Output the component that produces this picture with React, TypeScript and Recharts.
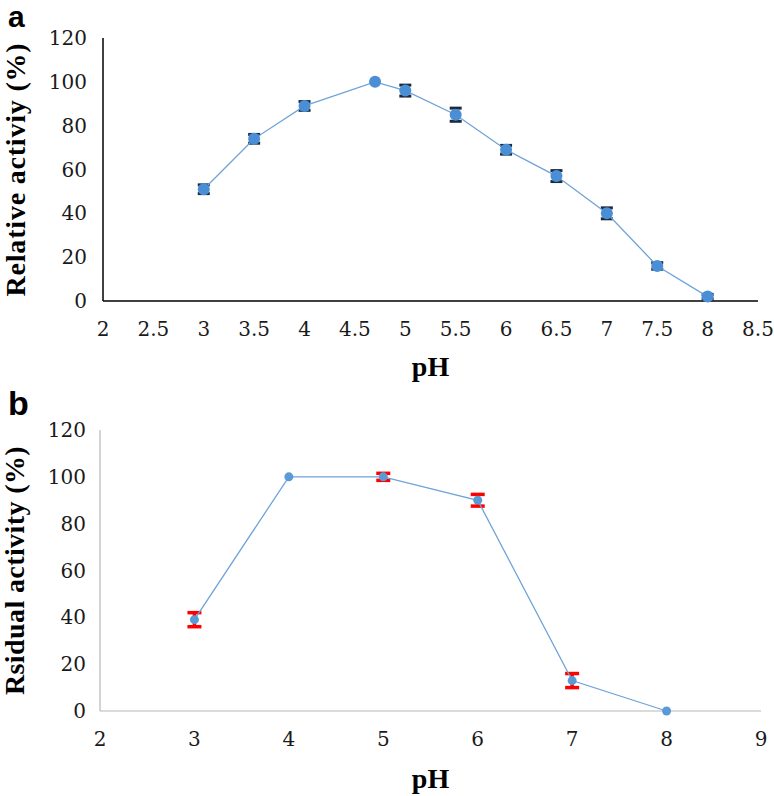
import React from 'react';
import { LineChart, Line, XAxis, YAxis, ErrorBar } from 'recharts';

// Panel a: pH optimum
const phA = [3, 3.5, 4, 4.7, 5, 5.5, 6, 6.5, 7, 7.5, 8];
const relActivity = [51, 74, 89, 100, 96, 85, 69, 57, 40, 16, 2];
const relError = [2, 2, 2, 0, 2.5, 3, 2, 2.5, 2.5, 1.5, 1];
const ticksXA = [2, 2.5, 3, 3.5, 4, 4.5, 5, 5.5, 6, 6.5, 7, 7.5, 8, 8.5];

// Panel b: pH stability
const phB = [3, 4, 5, 6, 7, 8];
const resActivity = [39, 100, 100, 90, 13, 0];
const resError = [3, 0, 1.5, 2.5, 3, 0];
const ticksXB = [2, 3, 4, 5, 6, 7, 8, 9];

const ticksY = [0, 20, 40, 60, 80, 100, 120];

const dataA = phA.map((x, i) => ({ x, y: relActivity[i], err: relError[i] }));
const dataB = phB.map((x, i) => ({ x, y: resActivity[i], err: resError[i] }));

const tickFont = { fontFamily: 'DejaVu Serif', fontSize: 20, fill: '#1a1a1a' };
const titleStyle = {
  fontFamily: 'Liberation Serif',
  fontSize: 28,
  fontWeight: 'bold',
  fill: '#000',
};

export default function App() {
  return (
    <div style={{ position: 'absolute', left: 0, top: 0, width: 774, height: 796, background: '#fff' }}>
      <div style={{ position: 'absolute', left: 0, top: 0 }}>
        <LineChart width={774} height={392} data={dataA} margin={{ top: 38, right: 16, left: 0, bottom: 0 }}>
          <XAxis
            dataKey="x"
            type="number"
            domain={[2, 8.5]}
            ticks={ticksXA}
            interval={0}
            tickLine={false}
            tickMargin={15}
            axisLine={{ stroke: '#000', strokeWidth: 1.5 }}
            tick={tickFont}
            height={91}
            label={{ value: 'pH', position: 'insideBottom', offset: 16, style: titleStyle }}
          />
          <YAxis
            type="number"
            domain={[0, 120]}
            ticks={ticksY}
            interval={0}
            tickLine={false}
            tickMargin={10}
            axisLine={{ stroke: '#000', strokeWidth: 1.5 }}
            tick={tickFont}
            width={103}
            label={{
              value: 'Relative activiy (%)',
              angle: -90,
              position: 'center',
              dx: -36,
              style: { ...titleStyle, letterSpacing: 0.8 },
            }}
          />
          <Line
            dataKey="y"
            type="linear"
            stroke="#6fa3d8"
            strokeWidth={1.3}
            dot={{ r: 6, fill: '#4a8fd6', stroke: 'none' }}
            isAnimationActive={false}
          >
            <ErrorBar dataKey="err" direction="y" width={6} strokeWidth={3} stroke="#1e2a3b" />
          </Line>
        </LineChart>
      </div>
      <div style={{ position: 'absolute', left: 0, top: 380 }}>
        <LineChart width={774} height={416} data={dataB} margin={{ top: 50, right: 13, left: 0, bottom: 0 }}>
          <XAxis
            dataKey="x"
            type="number"
            domain={[2, 9]}
            ticks={ticksXB}
            interval={0}
            tickLine={false}
            tickMargin={15}
            axisLine={{ stroke: '#b8b8b8', strokeWidth: 1.2 }}
            tick={tickFont}
            height={85}
            label={{ value: 'pH', position: 'insideBottom', offset: 8, style: titleStyle }}
          />
          <YAxis
            type="number"
            domain={[0, 120]}
            ticks={ticksY}
            interval={0}
            tickLine={false}
            tickMargin={8}
            axisLine={{ stroke: '#b8b8b8', strokeWidth: 1.2 }}
            tick={tickFont}
            width={100}
            label={{
              value: 'Rsidual activity (%)',
              angle: -90,
              position: 'center',
              dx: -36,
              style: { ...titleStyle, letterSpacing: 0.4 },
            }}
          />
          <Line
            dataKey="y"
            type="linear"
            stroke="#6fa3d8"
            strokeWidth={1.3}
            dot={{ r: 4.5, fill: '#5b9bd5', stroke: 'none' }}
            isAnimationActive={false}
          >
            <ErrorBar dataKey="err" direction="y" width={7} strokeWidth={3.5} stroke="#ff0000" />
          </Line>
        </LineChart>
      </div>
      <svg
        width={774}
        height={796}
        style={{ position: 'absolute', left: 0, top: 0, pointerEvents: 'none' }}
      >
        <text x={8} y={27} fontFamily="Liberation Sans" fontWeight="bold" fontSize={30} fill="#000">
          a
        </text>
        <text x={8} y={415} fontFamily="Liberation Sans" fontWeight="bold" fontSize={34} fill="#000">
          b
        </text>
      </svg>
    </div>
  );
}
